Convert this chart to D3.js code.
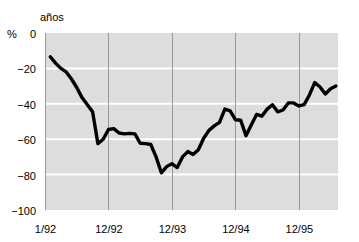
<!DOCTYPE html>
<html>
<head>
<meta charset="utf-8">
<script src="https://cdn.jsdelivr.net/npm/d3@7"></script>
<style>
  body { margin: 0; background: #fff; }
  text { font-family: "Liberation Sans", Arial, sans-serif; font-size: 11px; fill: #000; }
</style>
</head>
<body>
<div id="chart"></div>
<script>
// month index (0 = 1/92) and value in %
var months = [1,2,3,4,5,6,7,8,9,10,11,12,13,14,15,16,17,18,19,20,21,22,23,24,25,26,27,28,
  29,30,31,32,33,34,35,36,37,38,39,40,41,42,43,44,45,46,47,48,49,50,51,52,53,54,55];
var values = [-13.4,-17,-20,-22,-26,-30.8,-36.5,-40.5,-44.5,-62.5,-60,-54.5,-54,-56.5,-57,-56.7,
  -57,-62.3,-62.5,-63,-70,-79,-75.5,-73.8,-76,-70,-67,-68.7,-66,-59.5,-55,-52.5,-50.5,-43,
  -44,-49,-49.3,-58,-52,-46,-47,-43,-40.5,-44.5,-43.5,-39.5,-39.5,-41.2,-40.5,-35,-28,-30.5,
  -34.5,-31.5,-30];
var tickPos = [0, 12, 24, 36, 48];
var tickLabels = ["1/92", "12/92", "12/93", "12/94", "12/95"];
var yTicks = [0, -20, -40, -60, -80, -100];

var width = 359, height = 242;
var pLeft = 45, pRight = 338, pTop = 33, pBottom = 210;

var svg = d3.select("#chart").append("svg")
  .attr("width", width)
  .attr("height", height);

var x = d3.scaleLinear().domain([0, 55.4]).range([pLeft, pRight]);
var y = d3.scaleLinear().domain([-100, 0]).range([pBottom, pTop]);

// plot background
svg.append("rect")
  .attr("x", pLeft).attr("y", pTop)
  .attr("width", pRight - pLeft).attr("height", pBottom - pTop)
  .attr("fill", "#dddddd");

// white horizontal grid
svg.selectAll("line.hgrid")
  .data(yTicks.filter(function (d) { return d != 0 && d != -100; }))
  .enter().append("line")
  .attr("class", "hgrid")
  .attr("x1", pLeft).attr("x2", pRight)
  .attr("y1", function (d) { return y(d); })
  .attr("y2", function (d) { return y(d); })
  .attr("stroke", "#fff")
  .attr("stroke-width", 2);

// gray vertical lines at the ticks
svg.selectAll("line.vgrid")
  .data(tickPos)
  .enter().append("line")
  .attr("class", "vgrid")
  .attr("x1", function (d) { return Math.round(x(d)) + 0.5; })
  .attr("x2", function (d) { return Math.round(x(d)) + 0.5; })
  .attr("y1", pTop).attr("y2", pBottom)
  .attr("stroke", "#999")
  .attr("stroke-width", 1);

// axes (text only)
var yAxis = svg.append("g")
  .attr("transform", "translate(" + (pLeft - 9) + ",1)")
  .call(d3.axisLeft(y).tickValues(yTicks).tickSize(0).tickPadding(0));
yAxis.select(".domain").remove();
yAxis.selectAll("text")
  .style("font-family", "Liberation Sans, Arial, sans-serif")
  .style("font-size", "11px")
  .attr("fill", "#000");

var xAxis = svg.append("g")
  .attr("transform", "translate(0," + (pBottom + 15) + ")")
  .call(d3.axisBottom(x).tickValues(tickPos)
    .tickFormat(function (d, i) { return tickLabels[i]; })
    .tickSize(0).tickPadding(0));
xAxis.select(".domain").remove();
xAxis.selectAll("text")
  .style("font-family", "Liberation Sans, Arial, sans-serif")
  .style("font-size", "11px")
  .attr("fill", "#000");

svg.append("text").attr("x", 7).attr("y", 38).text("%");
svg.append("text").attr("x", 40).attr("y", 21).text("años");

// the series
var line = d3.line()
  .x(function (d, i) { return x(months[i]); })
  .y(function (d) { return y(d); });

svg.append("path")
  .datum(values)
  .attr("d", line)
  .attr("fill", "none")
  .attr("stroke", "#000")
  .attr("stroke-width", 3.4)
  .attr("stroke-linejoin", "round")
  .attr("stroke-linecap", "round");
</script>
</body>
</html>
